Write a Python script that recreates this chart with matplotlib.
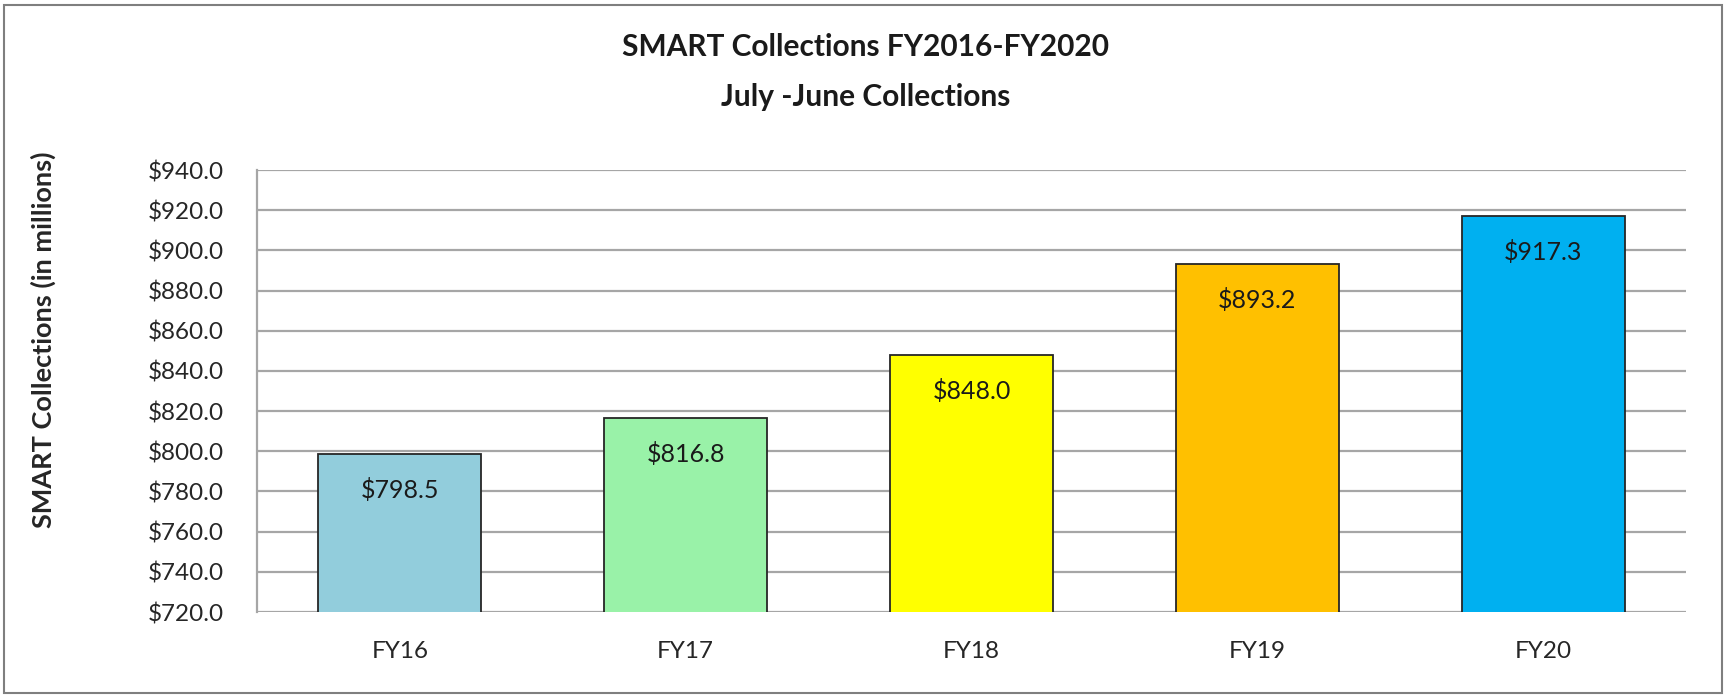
import numpy as np
import matplotlib.pyplot as plt
from matplotlib.patches import Rectangle

# data
years = ['FY16', 'FY17', 'FY18', 'FY19', 'FY20']
collections = [798.5, 816.8, 848.0, 893.2, 917.3]
bar_colors = ['#92CDDC', '#99F2A8', '#FFFF00', '#FFC000', '#00B0F0']
y_ticks = np.arange(720, 941, 20)

plt.rcParams['font.family'] = ['Lato', 'DejaVu Sans']

fig = plt.figure(figsize=(17.29, 6.97), dpi=100)
ax = fig.add_axes([257/1729, 85/697, 1429/1729, 442/697])

x = np.arange(len(years))
bars = ax.bar(x, collections, width=0.57, color=bar_colors,
              edgecolor='#262626', linewidth=1.3, zorder=3)

for b, v in zip(bars, collections):
    ax.text(b.get_x() + b.get_width()/2, v - 18, '$%.1f' % v,
            ha='center', va='center', fontsize=18, color='#1a1a1a', zorder=4)

ax.set_xlim(-0.5, len(years) - 0.5)
ax.set_ylim(720, 940)
ax.set_yticks(y_ticks)
ax.set_yticklabels(['$%.1f' % t for t in y_ticks], fontsize=17.5, color='#262626')
ax.set_xticks(x)
ax.set_xticklabels(years, fontsize=17.5, color='#262626')
ax.tick_params(axis='both', length=0)
ax.tick_params(axis='y', pad=24)
ax.tick_params(axis='x', pad=21)

ax.yaxis.grid(True, color='#A6A6A6', linewidth=1.6, zorder=0)
ax.set_axisbelow(True)
for s in ['top', 'right', 'bottom']:
    ax.spines[s].set_visible(False)
ax.spines['left'].set_color('#A6A6A6')
ax.spines['left'].set_linewidth(1.6)

fig.text(43/1729, 1 - 340/697, 'SMART Collections (in millions)', rotation=90,
         ha='center', va='center', fontsize=19.5, fontweight='bold', color='#262626')
fig.text(866/1729, 1 - 47/697, 'SMART Collections FY2016-FY2020',
         ha='center', va='center', fontsize=21.5, fontweight='bold', color='#1a1a1a')
fig.text(866/1729, 1 - 97/697, 'July -June Collections',
         ha='center', va='center', fontsize=21.5, fontweight='bold', color='#1a1a1a')

# outer chart border
fig.patches.append(Rectangle((4/1729, 4/697), 1718/1729, 688/697,
                             transform=fig.transFigure, fill=False,
                             edgecolor='#7F7F7F', linewidth=1.5))

fig.savefig('out.png', dpi=100)
